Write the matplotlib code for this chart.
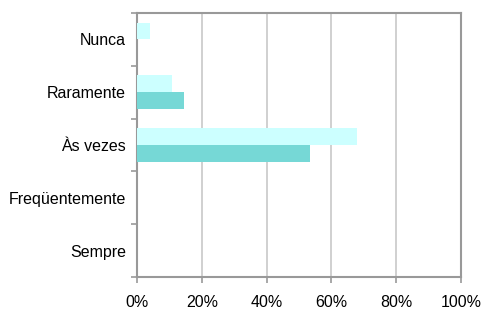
import matplotlib.pyplot as plt
import numpy as np

categories = ['Nunca', 'Raramente', 'Às vezes', 'Freqüentemente', 'Sempre']
series_light = [4, 10.8, 68, 0, 0]
series_dark = [0, 14.5, 53.4, 0, 0]
x_ticks = [0, 20, 40, 60, 80, 100]

plt.rcParams['font.family'] = ['Liberation Sans', 'DejaVu Sans']

fig = plt.figure(figsize=(4.89, 3.15), dpi=100)
ax = fig.add_axes([0.280, 0.1206, 0.663, 0.8381])

pos = np.arange(len(categories))
h = 0.32
ax.barh(pos - h / 2, series_light, height=h, color='#CCFFFF', zorder=3)
ax.barh(pos + h / 2, series_dark, height=h, color='#76D8D6', zorder=3)

ax.set_xlim(0, 100)
ax.set_ylim(len(categories) - 0.5, -0.5)
ax.set_xticks(x_ticks)
ax.set_xticklabels([f'{t}%' for t in x_ticks], fontsize=11.5)
ax.set_yticks(pos)
ax.set_yticklabels(categories, fontsize=11.5)
ax.set_yticks(np.arange(len(categories) + 1) - 0.5, minor=True)
ax.tick_params(axis='y', which='major', length=0, pad=8)
ax.tick_params(axis='y', which='minor', length=4, color='#999999', width=1.2)
ax.tick_params(axis='x', length=4, color='#999999', width=1.2, pad=9)

ax.xaxis.grid(True, color='#C8C8C8', linewidth=1.2, zorder=0)
for s in ax.spines.values():
    s.set_color('#999999')
    s.set_linewidth(1.5)

fig.savefig('out.png', dpi=100)
